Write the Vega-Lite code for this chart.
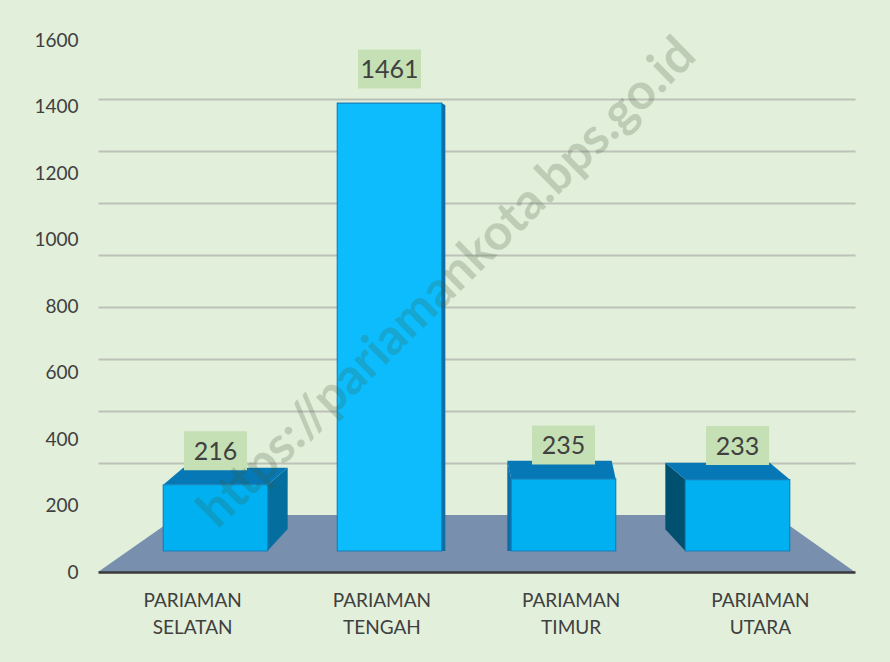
{
  "$schema": "https://vega.github.io/schema/vega-lite/v6.json",
  "autosize": {"type": "none"},
  "width": 757,
  "height": 532,
  "padding": {"left": 98, "top": 40, "right": 35, "bottom": 90},
  "background": "#e2efda",
  "config": {
    "view": {"stroke": null},
    "font": "Lato"
  },
  "data": {
    "values": [
      {"kecamatan": "PARIAMAN SELATAN", "jumlah": 216},
      {"kecamatan": "PARIAMAN TENGAH", "jumlah": 1461},
      {"kecamatan": "PARIAMAN TIMUR", "jumlah": 235},
      {"kecamatan": "PARIAMAN UTARA", "jumlah": 233}
    ]
  },
  "resolve": {"scale": {"x": "independent", "y": "independent", "shape": "independent", "color": "independent"}, "axis": {"x": "independent", "y": "independent"}},
  "layer": [
    {
      "mark": {"type": "bar", "opacity": 0},
      "encoding": {
        "x": {
          "field": "kecamatan",
          "type": "nominal",
          "sort": null,
          "scale": {"paddingInner": 0, "paddingOuter": 0},
          "axis": {
            "title": null,
            "labelAngle": 0,
            "labelExpr": "split(datum.label, ' ')",
            "labelFont": "Lato",
            "labelFontSize": 19,
            "labelColor": "#404040",
            "labelPadding": 19,
            "labelLineHeight": 27,
            "ticks": false,
            "domainColor": "#3a3a3a",
            "domainWidth": 2.5,
            "zindex": 2
          }
        },
        "y": {
          "field": "jumlah",
          "type": "quantitative",
          "scale": {"domain": [0, 1600], "nice": false},
          "axis": {
            "title": null,
            "values": [0, 200, 400, 600, 800, 1000, 1200, 1400, 1600],
            "format": "d",
            "labelFontSize": 19,
            "labelColor": "#404040",
            "labelPadding": 20,
            "ticks": false,
            "domain": false,
            "grid": false
          }
        }
      }
    },
    {
      "mark": {"type": "bar", "opacity": 0},
      "encoding": {
        "x": {"field": "kecamatan", "type": "nominal", "sort": null, "axis": null},
        "y": {
          "field": "jumlah",
          "type": "quantitative",
          "scale": {"domain": [-219, 1827], "nice": false, "zero": false},
          "axis": {
            "title": null,
            "orient": "left",
            "values": [200, 400, 600, 800, 1000, 1200, 1400, 1600],
            "labels": false,
            "ticks": false,
            "domain": false,
            "grid": true,
            "gridColor": "#bcc2b8",
            "gridWidth": 2
          }
        }
      }
    },
    {
      "data": {"values": [{"lantai": "dasar"}]},
      "mark": {"type": "point", "shape": "M-1,0L1,0L0.787,-0.1506L-0.785,-0.1506Z", "size": 573049, "filled": true, "color": "#7890ad", "opacity": 1, "strokeWidth": 0},
      "encoding": {
        "y": {"datum": 0, "scale": {"domain": [0, 1600], "nice": false}, "axis": null}
      }
    },
    {
      "mark": {"type": "point", "filled": true, "opacity": 1, "strokeWidth": 0, "size": 10899},
      "encoding": {
        "x": {"field": "kecamatan", "type": "nominal", "sort": null, "scale": {"padding": 0.675}, "axis": null},
        "y": {"field": "jumlah", "type": "quantitative", "scale": {"domain": [-68.5, 1666.7], "nice": false, "zero": false}, "axis": null},
        "shape": {
          "field": "kecamatan",
          "type": "nominal",
          "legend": null,
          "scale": {
            "domain": ["PARIAMAN SELATAN", "PARIAMAN TENGAH", "PARIAMAN TIMUR", "PARIAMAN UTARA"],
            "range": [
              "M1,0L1.383,-0.326L1.383,0.845L1,1.266Z",
              "M1,0L1.07,0.04L1.07,8.58L1,8.58Z",
              "M-1,0L-1.077,-0.35L-1.077,1.38L-1,1.38Z",
              "M-1,0L-1.383,-0.32L-1.383,0.95L-1,1.37Z"
            ]
          }
        },
        "color": {
          "field": "kecamatan",
          "type": "nominal",
          "legend": null,
          "scale": {
            "domain": ["PARIAMAN SELATAN", "PARIAMAN TENGAH", "PARIAMAN TIMUR", "PARIAMAN UTARA"],
            "range": ["#046f9f", "#0d6fa5", "#0a6ea8", "#02506f"]
          }
        }
      }
    },
    {
      "mark": {"type": "point", "filled": true, "opacity": 1, "strokeWidth": 0, "size": 10899, "color": "#0678b6"},
      "encoding": {
        "x": {"field": "kecamatan", "type": "nominal", "sort": null, "scale": {"padding": 0.675}, "axis": null},
        "y": {"field": "jumlah", "type": "quantitative", "scale": {"domain": [-68.5, 1666.7], "nice": false, "zero": false}, "axis": null},
        "shape": {
          "field": "kecamatan",
          "type": "nominal",
          "legend": null,
          "scale": {
            "domain": ["PARIAMAN SELATAN", "PARIAMAN TENGAH", "PARIAMAN TIMUR", "PARIAMAN UTARA"],
            "range": [
              "M-1,0L-0.617,-0.326L1.383,-0.326L1,0Z",
              "M-1,0L1,0L1,0L-1,0Z",
              "M-1,0L-1.077,-0.35L0.923,-0.35L1,0Z",
              "M-1,0L-1.383,-0.32L0.617,-0.32L1,0Z"
            ]
          }
        }
      }
    },
    {
      "mark": {"type": "bar", "width": {"band": 0.6}, "stroke": "#1a7fb8", "strokeWidth": 1.2},
      "encoding": {
        "x": {"field": "kecamatan", "type": "nominal", "sort": null, "scale": {"paddingInner": 0, "paddingOuter": 0.175}, "axis": null},
        "y": {"field": "jumlah", "type": "quantitative", "scale": {"domain": [-68.5, 1666.7], "nice": false, "zero": false}, "axis": null},
        "y2": {"datum": 0},
        "color": {
          "field": "kecamatan",
          "type": "nominal",
          "legend": null,
          "scale": {
            "domain": ["PARIAMAN SELATAN", "PARIAMAN TENGAH", "PARIAMAN TIMUR", "PARIAMAN UTARA"],
            "range": ["#00b0f0", "#0cbcfc", "#00b0f0", "#00b0f0"]
          }
        }
      }
    },
    {
      "mark": {"type": "point", "shape": "M-1,-0.62L1,-0.62L1,0.62L-1,0.62Z", "size": 3969, "filled": true, "color": "#c5e0b4", "opacity": 1, "strokeWidth": 0, "yOffset": -34},
      "encoding": {
        "x": {"field": "kecamatan", "type": "nominal", "sort": null, "scale": {"padding": 0.675}, "axis": null},
        "y": {"field": "jumlah", "type": "quantitative", "scale": {"domain": [-68.5, 1666.7], "nice": false, "zero": false}, "axis": null}
      }
    },
    {
      "mark": {"type": "text", "fontSize": 25, "color": "#404040", "yOffset": -33, "baseline": "middle"},
      "encoding": {
        "x": {"field": "kecamatan", "type": "nominal", "sort": null, "scale": {"padding": 0.675}, "axis": null},
        "y": {"field": "jumlah", "type": "quantitative", "scale": {"domain": [-68.5, 1666.7], "nice": false, "zero": false}, "axis": null},
        "text": {"field": "jumlah", "type": "quantitative"}
      }
    },
    {
      "data": {"values": [{"wm": "https://pariamankota.bps.go.id"}]},
      "mark": {"type": "text", "fontSize": 50, "fontWeight": "bold", "angle": -44.5, "color": "#3c5a38", "opacity": 0.22, "dx": 92, "baseline": "middle", "align": "center"},
      "encoding": {
        "x": {"datum": "PARIAMAN TENGAH", "scale": {"domain": ["PARIAMAN SELATAN", "PARIAMAN TENGAH", "PARIAMAN TIMUR", "PARIAMAN UTARA"]}, "axis": null},
        "y": {"datum": 675, "scale": {"domain": [0, 1600], "nice": false}, "axis": null},
        "text": {"field": "wm", "type": "nominal"}
      }
    }
  ]
}
